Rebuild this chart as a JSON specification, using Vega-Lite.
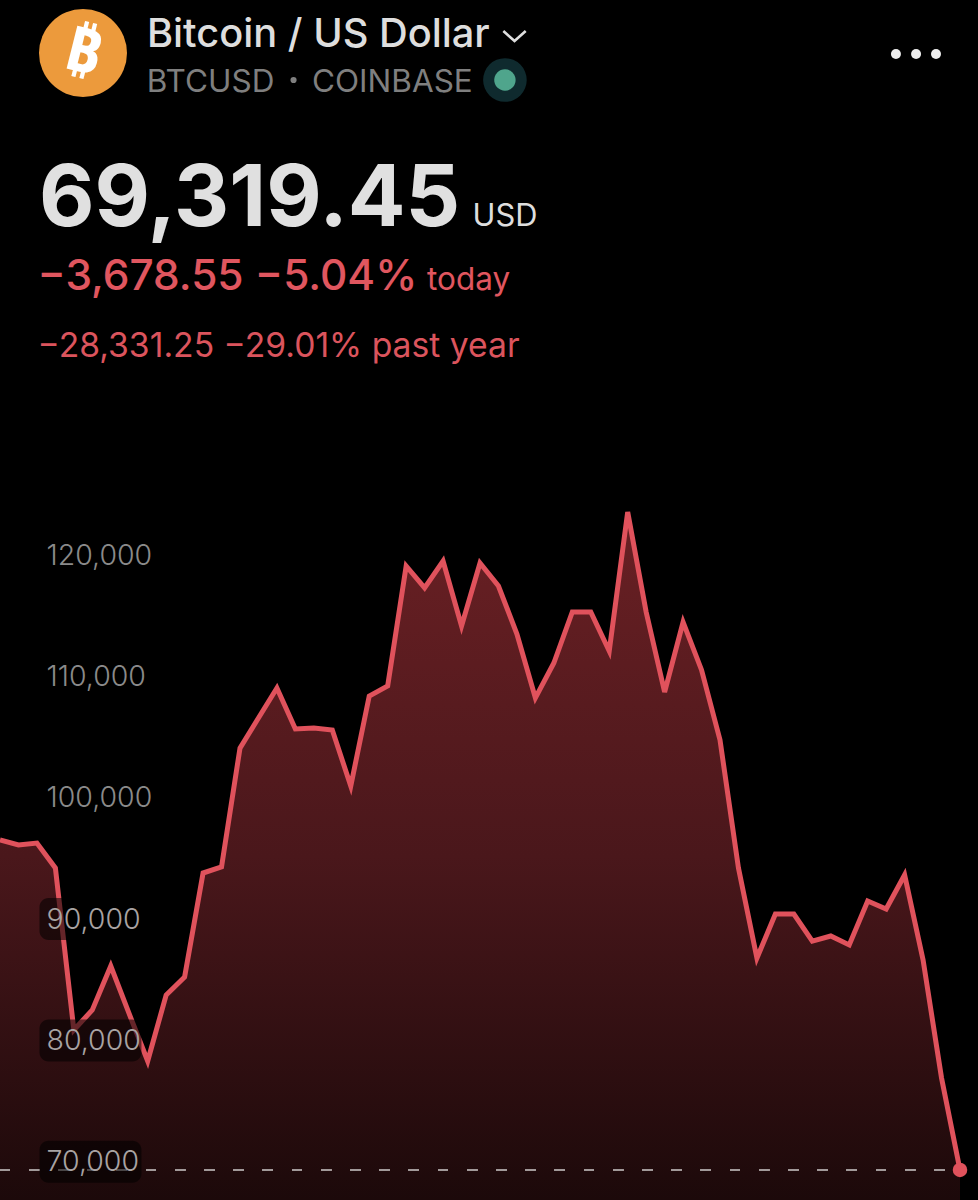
{
"$schema":"https://vega.github.io/schema/vega-lite/v6.json",
"autosize":{"type":"none"},
"width":978,"height":1200,"padding":0,"background":"#000000",
"config":{"view":{"stroke":null},"numberFormat":",","text":{"font":"Inter","align":"left","baseline":"alphabetic"},
 "axisY":{"title":null,"domain":false,"ticks":false,"tickSize":0,"grid":false,"labelAlign":"left","labelPadding":-46,"labelFont":"Inter","labelFontSize":28.5,"labelFontWeight":300,"labelOverlap":false,"labelBound":false,"labelFlush":false}},
"datasets":{"btc":[
{"week":0,"price":96520},{"week":1,"price":96110},{"week":2,"price":96270},{"week":3,"price":94210},{"week":4,"price":80860},{"week":5,"price":82510},{"week":6,"price":86130},{"week":7,"price":82180},{"week":8,"price":78300},{"week":9,"price":83740},{"week":10,"price":85230},{"week":11,"price":93800},{"week":12,"price":94300},{"week":13,"price":104100},{"week":14,"price":106580},{"week":15,"price":109050},{"week":16,"price":105670},{"week":17,"price":105750},{"week":18,"price":105590},{"week":19,"price":100970},{"week":20,"price":108390},{"week":21,"price":109220},{"week":22,"price":119110},{"week":23,"price":117300},{"week":24,"price":119520},{"week":25,"price":114160},{"week":26,"price":119360},{"week":27,"price":117460},{"week":28,"price":113500},{"week":29,"price":108230},{"week":30,"price":111110},{"week":31,"price":115320},{"week":32,"price":115320},{"week":33,"price":112100},{"week":34,"price":123560},{"week":35,"price":115320},{"week":36,"price":108720},{"week":37,"price":114490},{"week":38,"price":110540},{"week":39,"price":104770},{"week":40,"price":94210},{"week":41,"price":86790},{"week":42,"price":90420},{"week":43,"price":90420},{"week":44,"price":88190},{"week":45,"price":88610},{"week":46,"price":87870},{"week":47,"price":91490},{"week":48,"price":90830},{"week":49,"price":93640},{"week":50,"price":86630},{"week":51,"price":76900},{"week":52,"price":69319.45}
]},
"data":{"name":"btc"},
"layer":[
{"mark":{"type":"area","line":false,"fill":{"x1":0,"y1":0,"x2":0,"y2":1,"gradient":"linear","stops":[{"offset":0,"color":"#6a2024"},{"offset":0.5,"color":"#4a171b"},{"offset":1,"color":"#1c090a"}]}},
 "encoding":{"x":{"field":"week","type":"quantitative","scale":{"domain":[0,52.975],"nice":false},"axis":null},
 "y":{"field":"price","type":"quantitative","stack":null,"scale":{"domain":[66843,165771],"zero":false,"nice":false},
  "axis":{"values":[70000,80000,90000,100000,110000,120000],"format":",","labelExpr":"format(datum.value, ',')","zindex":1,"labelColor":{"condition":{"test":"datum.value <= 90000","value":"#a8a3a3"},"value":"#8a8a8a"}}},
 "y2":{"datum":66843}}},
{"mark":{"type":"rule","stroke":"#a39a9a","strokeWidth":1.5,"strokeDash":[10,19.2]},
 "encoding":{"x":{"datum":0,"type":"quantitative","axis":null},"x2":{"datum":52},"y":{"datum":69319.45,"type":"quantitative"}}},
{"mark":{"type":"line","stroke":"#e0525c","strokeWidth":5,"strokeJoin":"miter"},
 "encoding":{"x":{"field":"week","type":"quantitative","axis":null},"y":{"field":"price","type":"quantitative"}}},
{"transform":[{"filter":"datum.week == 52"}],"mark":{"type":"point","filled":true,"fill":"#e0525c","opacity":1,"size":210},
 "encoding":{"x":{"field":"week","type":"quantitative","axis":null},"y":{"field":"price","type":"quantitative"}}},
{"data":{"values":[{"level":70000},{"level":80000},{"level":90000}]},"mark":{"type":"rect","fill":"#000000","opacity":0.55,"width":102,"height":42,"cornerRadius":9},
 "encoding":{"x":{"datum":4.9,"type":"quantitative","axis":null},"y":{"field":"level","type":"quantitative"}}},
{"data":{"values":[{"name":"icon"}]},"mark":{"type":"point","filled":true,"fill":"#ec9a3c","opacity":1,"size":7744},
 "encoding":{"x":{"datum":4.496,"type":"quantitative","axis":null},"y":{"datum":161401,"type":"quantitative"}}},
{"data":{"values":[{"label":"₿"}]},"mark":{"type":"text","font":"Noto Sans","fontWeight":700,"fontSize":62,"fill":"#ffffff","angle":14,"align":"center","baseline":"middle"},
 "encoding":{"x":{"datum":4.496,"type":"quantitative","axis":null},"y":{"datum":161401,"type":"quantitative"},"text":{"field":"label"}}},
{"data":{"values":[{"label":"Bitcoin / US Dollar"}]},"mark":{"type":"text","fontSize":39.8,"fontWeight":500,"fill":"#dedede"},
 "encoding":{"x":{"datum":7.96,"type":"quantitative","axis":null},"y":{"datum":161937,"type":"quantitative"},"text":{"field":"label"}}},
{"data":{"values":[{"name":"chevron"}]},"mark":{"type":"point","filled":false,"stroke":"#dedede","strokeWidth":2.6,"opacity":1,"size":500,"shape":"M-1,-0.45L0,0.45L1,-0.45"},
 "encoding":{"x":{"datum":27.87,"type":"quantitative","axis":null},"y":{"datum":162800,"type":"quantitative"}}},
{"data":{"values":[{"label":"BTCUSD"}]},"mark":{"type":"text","fontSize":31.5,"fill":"#7f7f7f"},
 "encoding":{"x":{"datum":7.95,"type":"quantitative","axis":null},"y":{"datum":158212,"type":"quantitative"},"text":{"field":"label"}}},
{"data":{"values":[{"name":"sep"}]},"mark":{"type":"point","filled":true,"fill":"#7f7f7f","opacity":1,"size":38},
 "encoding":{"x":{"datum":15.9,"type":"quantitative","axis":null},"y":{"datum":159175,"type":"quantitative"}}},
{"data":{"values":[{"label":"COINBASE"}]},"mark":{"type":"text","fontSize":31.5,"fill":"#7f7f7f"},
 "encoding":{"x":{"datum":16.9,"type":"quantitative","axis":null},"y":{"datum":158212,"type":"quantitative"},"text":{"field":"label"}}},
{"data":{"values":[{"name":"halo"}]},"mark":{"type":"point","filled":true,"fill":"#0f2a2e","opacity":1,"size":1901},
 "encoding":{"x":{"datum":27.35,"type":"quantitative","axis":null},"y":{"datum":159175,"type":"quantitative"}}},
{"data":{"values":[{"name":"live"}]},"mark":{"type":"point","filled":true,"fill":"#4fa58c","opacity":1,"size":458},
 "encoding":{"x":{"datum":27.35,"type":"quantitative","axis":null},"y":{"datum":159175,"type":"quantitative"}}},
{"data":{"values":[{"slot":48.53},{"slot":49.62},{"slot":50.7}]},"mark":{"type":"point","filled":true,"fill":"#eeeeee","opacity":1,"size":100},
 "encoding":{"x":{"field":"slot","type":"quantitative","axis":null},"y":{"datum":161319,"type":"quantitative"}}},
{"data":{"values":[{"label":"69,319.45"}]},"mark":{"type":"text","fontSize":85.5,"fontWeight":700,"fill":"#e0e0e0"},
 "encoding":{"x":{"datum":2.11,"type":"quantitative","axis":null},"y":{"datum":147100,"type":"quantitative"},"text":{"field":"label"}}},
{"data":{"values":[{"label":"USD"}]},"mark":{"type":"text","fontSize":30.8,"fill":"#dedede"},
 "encoding":{"x":{"datum":25.6,"type":"quantitative","axis":null},"y":{"datum":147100,"type":"quantitative"},"text":{"field":"label"}}},
{"data":{"values":[{"label":"−3,678.55 −5.04%"}]},"mark":{"type":"text","fontSize":42.4,"fontWeight":500,"fill":"#e0565f"},
 "encoding":{"x":{"datum":2.03,"type":"quantitative","axis":null},"y":{"datum":141900,"type":"quantitative"},"text":{"field":"label"}}},
{"data":{"values":[{"label":"today"}]},"mark":{"type":"text","fontSize":31.5,"fill":"#e0565f"},
 "encoding":{"x":{"datum":23.13,"type":"quantitative","axis":null},"y":{"datum":141900,"type":"quantitative"},"text":{"field":"label"}}},
{"data":{"values":[{"label":"−28,331.25 −29.01% past year"}]},"mark":{"type":"text","fontSize":33.7,"fill":"#db545d"},
 "encoding":{"x":{"datum":2.03,"type":"quantitative","axis":null},"y":{"datum":136380,"type":"quantitative"},"text":{"field":"label"}}}
]
}
